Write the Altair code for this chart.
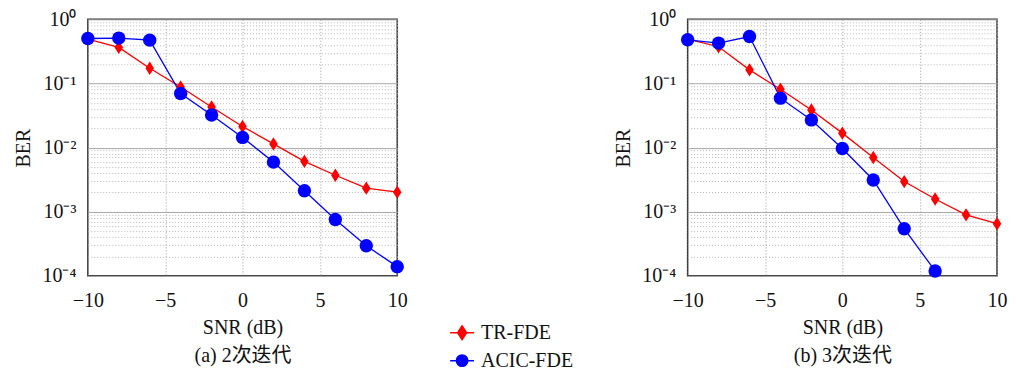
import altair as alt
import pandas as pd

snr = [-10, -8, -6, -4, -2, 0, 2, 4, 6, 8, 10]
tr_a = [0.49, 0.365, 0.173, 0.088, 0.043, 0.0213, 0.0114, 0.0061, 0.0037, 0.00233, 0.00202]
acic_a = [0.503, 0.51, 0.474, 0.0697, 0.0323, 0.0144, 0.00594, 0.00212, 0.000757, 0.000294, 0.000139]
tr_b = [0.49, 0.374, 0.163, 0.0813, 0.0385, 0.0168, 0.0070, 0.00295, 0.00158, 0.000894, 0.000649]
snr_acic_b = [-10, -8, -6, -4, -2, 0, 2, 4, 6]
acic_b = [0.48, 0.426, 0.54, 0.059, 0.027, 0.0097, 0.00313, 0.000543, 0.000119]

series = ["TR-FDE", "ACIC-FDE"]
colors = ["#ff0000", "#0000ff"]
marker_shapes = ["M0,-1L0.64,0L0,1L-0.64,0Z", "circle"]
legend_shapes = [
    "M-2,0L2,0M0,-1.15L0.75,0L0,1.15L-0.75,0Z",
    "M-2,0L2,0M0.95,0A0.95,0.95,0,1,1,-0.95,0A0.95,0.95,0,1,1,0.95,0Z",
]
x_ticks = [-10, -5, 0, 5, 10]
y_ticks = [k * 10.0 ** e for e in [-4, -3, -2, -1] for k in range(1, 10)] + [1.0]
sup_labels = ["10⁰", "10⁻¹", "10⁻²", "10⁻³", "10⁻⁴"]

FONT = "'Liberation Serif', 'Noto Sans CJK SC', serif"
FS = 20
major = "abs(log(datum.value)/LN10 - round(log(datum.value)/LN10)) < 0.01"
label_expr = (
    f"{major} ? {sup_labels}[-round(log(datum.value)/LN10)] : ''"
)


def panel(x_tr, tr, x_acic, acic, caption, with_legend):
    rows = [{"snr": x, "ber": v, "series": series[0]} for x, v in zip(x_tr, tr)]
    rows += [{"snr": x, "ber": v, "series": series[1]} for x, v in zip(x_acic, acic)]
    df = pd.DataFrame(rows)

    x = alt.X(
        "snr:Q",
        scale=alt.Scale(domain=[-10, 10], nice=False, zero=False),
        axis=alt.Axis(
            values=x_ticks,
            title=["SNR (dB)", caption],
            titleLineHeight=28,
            titlePadding=7,
            ticks=False,
            domain=False,
            labelFlush=False,
            labelPadding=15,
            gridDash=[1, 2],
            gridColor="#9a9a9a",
            gridWidth=1,
        ),
    )
    y = alt.Y(
        "ber:Q",
        scale=alt.Scale(type="log", domain=[1e-4, 1], nice=False),
        axis=alt.Axis(
            values=y_ticks,
            labelExpr=label_expr,
            labelOverlap=False,
            labelFlush=False,
            title="BER",
            titlePadding=8,
            ticks=False,
            domain=False,
            labelPadding=12,
            gridDash={"condition": {"test": major, "value": []}, "value": [1, 2]},
            gridColor={"condition": {"test": major, "value": "#a8a8a8"}, "value": "#b8b8b8"},
            gridWidth=1,
        ),
    )
    col = alt.Color("series:N", scale=alt.Scale(domain=series, range=colors), legend=None)
    lines = alt.Chart(df).mark_line(strokeWidth=1.3).encode(x=x, y=y, color=col, detail="series:N")
    pts = alt.Chart(df).mark_point(filled=True, size=180, opacity=1).encode(
        x=x,
        y=y,
        color=col,
        shape=alt.Shape("series:N", scale=alt.Scale(domain=series, range=marker_shapes), legend=None),
    )
    layers = [lines, pts]
    if with_legend:
        leg = alt.Chart(df).mark_point(opacity=0, strokeWidth=1.5).encode(
            x=x,
            y=y,
            fill=alt.Fill("series:N", scale=alt.Scale(domain=series, range=colors), legend=alt.Legend(title=None)),
            stroke=alt.Stroke("series:N", scale=alt.Scale(domain=series, range=colors), legend=alt.Legend(title=None)),
            shape=alt.Shape("series:N", scale=alt.Scale(domain=series, range=legend_shapes), legend=alt.Legend(title=None)),
        )
        layers.append(leg)
    ch = alt.layer(*layers).resolve_scale(shape="independent", color="independent", fill="independent", stroke="independent")
    return ch.properties(width=310, height=257)


left = panel(snr, tr_a, snr, acic_a, "(a) 2次迭代", True)
right = panel(snr, tr_b, snr_acic_b, acic_b, "(b) 3次迭代", False)

chart = (
    alt.hconcat(left, right, spacing=38)
    .properties(padding={"left": 5, "top": 0, "right": 0, "bottom": 0})
    .configure(font=FONT)
    .configure_view(stroke="#333333", strokeWidth=1.5)
    .configure_axis(labelFont=FONT, titleFont=FONT, labelFontSize=FS, titleFontSize=FS,
                    titleFontWeight="normal", labelColor="#111", titleColor="#111")
    .configure_legend(
        orient="none",
        legendX=365,
        legendY=304,
        labelFont=FONT,
        labelFontSize=FS,
        labelColor="#111",
        symbolSize=144,
        symbolStrokeWidth=1.5,
        labelOffset=9,
        rowPadding=8,
        symbolOpacity=1,
    )
)

chart.save("out.html", embed_options={"renderer": "svg", "actions": False})
